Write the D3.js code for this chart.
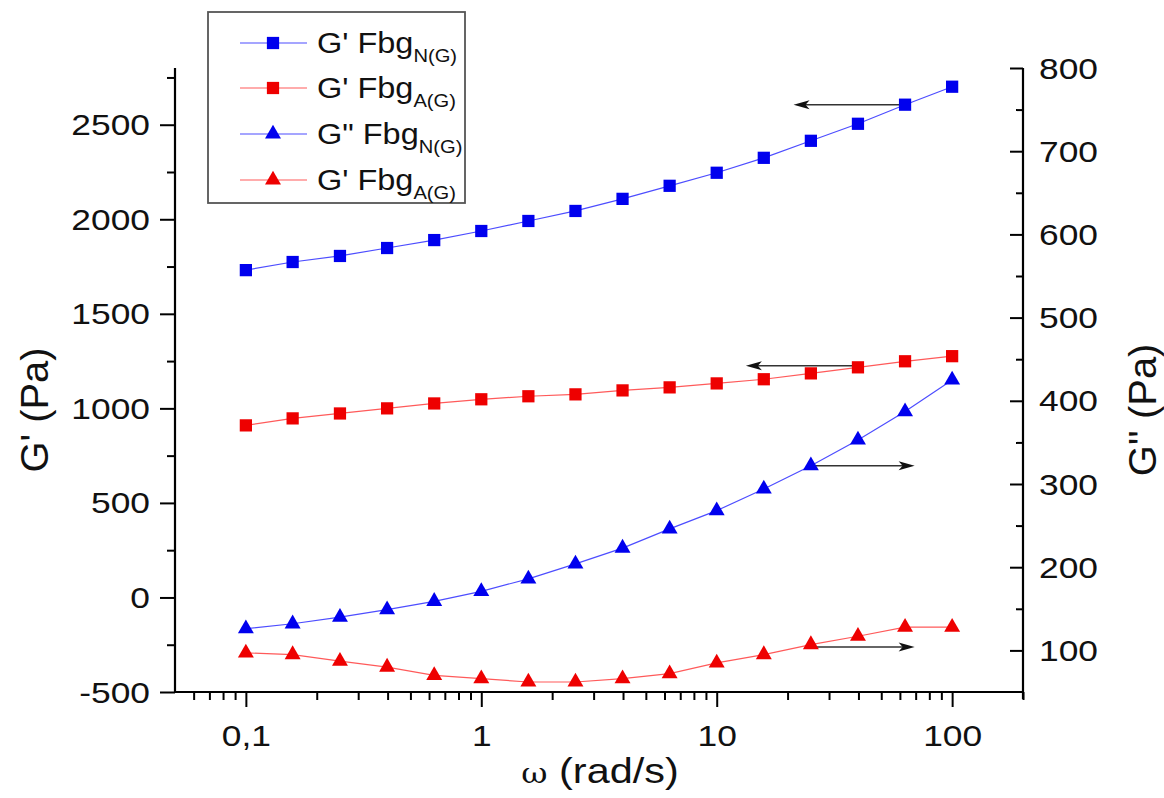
<!DOCTYPE html>
<html>
<head>
<meta charset="utf-8">
<script src="https://cdn.jsdelivr.net/npm/d3@7"></script>
<style>
  html, body { margin: 0; padding: 0; background: #fff; }
  svg { display: block; font-family: "Liberation Sans", Arial, sans-serif; }
</style>
</head>
<body>
<svg id="chart" width="1164" height="798"></svg>
<script>
// ---------- data ----------
const omega   = [0.1, 0.158, 0.251, 0.398, 0.631, 1, 1.585, 2.512, 3.981, 6.31, 10, 15.85, 25.12, 39.81, 63.1, 100];
const gpN     = [1731, 1774, 1806, 1848, 1890, 1938, 1991, 2044, 2108, 2177, 2246, 2325, 2415, 2505, 2606, 2701];
const gpA     = [910, 947, 973, 1000, 1026, 1048, 1064, 1074, 1095, 1111, 1132, 1154, 1185, 1217, 1249, 1276];
const gppN    = [126, 132, 140, 149, 159, 171, 186, 204, 223, 246, 268, 294, 322, 353, 387, 425];
const gppA    = [97, 95, 87, 80, 70, 66, 62, 62, 66, 72, 85, 95, 107, 117, 128, 128];

const xTicks       = [0.1, 1, 10, 100];
const xTickLabels  = ["0,1", "1", "10", "100"];
const xMinorTicks  = [0.06, 0.07, 0.08, 0.09, 0.2, 0.3, 0.4, 0.5, 0.6, 0.7, 0.8, 0.9,
                      2, 3, 4, 5, 6, 7, 8, 9, 20, 30, 40, 50, 60, 70, 80, 90, 200];
const yLeftTicks   = [-500, 0, 500, 1000, 1500, 2000, 2500];
const yLeftLabels  = ["-500", "0", "500", "1000", "1500", "2000", "2500"];
const yLeftMinor   = [-250, 250, 750, 1250, 1750, 2250, 2750];
const yRightTicks  = [100, 200, 300, 400, 500, 600, 700, 800];
const yRightLabels = ["100", "200", "300", "400", "500", "600", "700", "800"];
const yRightMinor  = [150, 250, 350, 450, 550, 650, 750];

const seriesNames  = ["G' Fbg", "G' Fbg", "G\" Fbg", "G' Fbg"];
const seriesSubs   = ["N(G)", "A(G)", "N(G)", "A(G)"];

// arrows: start x, end x, y value, axis
const arrowX1   = [63.1, 39.81, 25.12, 25.12];
const arrowX2   = [21.2, 13.3, 69.3, 69.3];
const arrowY    = [2606, 1225, 322, 104];
const arrowAxis = ["L", "L", "R", "R"];

// ---------- scales ----------
const svg = d3.select("#chart");
const x  = d3.scaleLog().domain([0.05, 200]).range([175, 1023]);
const yL = d3.scaleLinear().domain([-500, 2800]).range([692, 68]);
const yR = d3.scaleLinear().domain([50, 800]).range([692, 68]);

const BLUE = "#0000ee", RED = "#ee0000";
const BLUE_LINE = "#4d4dff", RED_LINE = "#ff5a5a";

const series = [
  { vals: gpN,  y: yL, color: BLUE, line: BLUE_LINE, sym: d3.symbolSquare },
  { vals: gpA,  y: yL, color: RED,  line: RED_LINE,  sym: d3.symbolSquare },
  { vals: gppN, y: yR, color: BLUE, line: BLUE_LINE, sym: d3.symbolTriangle },
  { vals: gppA, y: yR, color: RED,  line: RED_LINE,  sym: d3.symbolTriangle }
];

function styleAxis(g, sw) {
  g.select(".domain").attr("stroke", "#000").attr("stroke-width", sw);
  g.selectAll(".tick line").attr("stroke", "#000").attr("stroke-width", 2);
}

// ---------- x axis ----------
const gxMinor = svg.append("g").attr("transform", "translate(0,692)")
  .call(d3.axisBottom(x).tickValues(xMinorTicks).tickSize(8).tickFormat(""));
styleAxis(gxMinor, 2.2);
gxMinor.select(".domain").attr("d", `M175,0H1023`);
const gx = svg.append("g").attr("transform", "translate(0,692)")
  .call(d3.axisBottom(x).tickValues(xTicks).tickSize(15)
        .tickFormat((d, i) => xTickLabels[i]));
styleAxis(gx, 2.2);
gx.select(".domain").remove();
gx.selectAll("text")
  .attr("y", null).attr("dy", null)
  .attr("transform", "translate(0,54) scale(1.22,1)")
  .attr("font-size", 29).attr("fill", "#111").attr("font-family", "Liberation Sans, Arial, sans-serif");

// ---------- left axis ----------
const gyLMinor = svg.append("g").attr("transform", "translate(175,0)")
  .call(d3.axisLeft(yL).tickValues(yLeftMinor).tickSize(8).tickFormat(""));
styleAxis(gyLMinor, 2.2);
gyLMinor.select(".domain").attr("d", "M0,692V68");
const gyL = svg.append("g").attr("transform", "translate(175,0)")
  .call(d3.axisLeft(yL).tickValues(yLeftTicks).tickSize(15).tickFormat((d, i) => yLeftLabels[i]));
styleAxis(gyL, 2.2);
gyL.select(".domain").remove();
gyL.selectAll("text")
  .attr("x", null).attr("dy", null)
  .attr("transform", "translate(-25,10) scale(1.22,1)")
  .attr("font-size", 29).attr("fill", "#111").attr("font-family", "Liberation Sans, Arial, sans-serif");

// ---------- right axis (ticks inward) ----------
const gyRMinor = svg.append("g").attr("transform", "translate(1023,0)")
  .call(d3.axisLeft(yR).tickValues(yRightMinor).tickSize(7).tickFormat(""));
styleAxis(gyRMinor, 2.2);
gyRMinor.select(".domain").attr("d", "M0,699V68");
const gyR = svg.append("g").attr("transform", "translate(1023,0)")
  .call(d3.axisLeft(yR).tickValues(yRightTicks).tickSize(13).tickFormat((d, i) => yRightLabels[i]));
styleAxis(gyR, 2.2);
gyR.select(".domain").remove();
gyR.selectAll("text")
  .attr("x", null).attr("dy", null)
  .attr("text-anchor", "start")
  .attr("transform", "translate(16,10) scale(1.22,1)")
  .attr("font-size", 29).attr("fill", "#111").attr("font-family", "Liberation Sans, Arial, sans-serif");

// ---------- axis titles ----------
svg.append("text")
  .attr("transform", "translate(48,410) rotate(-90) scale(1.05,1)")
  .attr("text-anchor", "middle").attr("font-size", 38).attr("fill", "#111")
  .text("G' (Pa)");
svg.append("text")
  .attr("transform", "translate(1156,410) rotate(-90) scale(1.05,1)")
  .attr("text-anchor", "middle").attr("font-size", 38).attr("fill", "#111")
  .text("G'' (Pa)");
const xt = svg.append("text")
  .attr("transform", "translate(600,783) scale(1.15,1)")
  .attr("text-anchor", "middle").attr("font-size", 36).attr("fill", "#111");
xt.append("tspan").attr("font-family", "DejaVu Serif, serif").attr("font-size", 28).text("ω");
xt.append("tspan").text(" (rad/s)");

// ---------- arrows ----------
const arrowG = svg.append("g");
arrowX1.forEach((x1, i) => {
  const ys = arrowAxis[i] === "L" ? yL : yR;
  const yy = ys(arrowY[i]);
  const xa = x(x1), xb = x(arrowX2[i]);
  const dir = Math.sign(xb - xa);
  arrowG.append("line")
    .attr("x1", xa).attr("x2", xb - dir * 10).attr("y1", yy).attr("y2", yy)
    .attr("stroke", "#333").attr("stroke-width", 1.6);
  arrowG.append("path")
    .attr("d", `M${xb},${yy} L${xb - dir * 16},${yy - 4.5} L${xb - dir * 12},${yy} L${xb - dir * 16},${yy + 4.5} Z`)
    .attr("fill", "#111");
});

// ---------- series ----------
series.forEach(s => {
  const line = d3.line().x((d, i) => x(omega[i])).y(d => s.y(d));
  svg.append("path").datum(s.vals).attr("d", line)
    .attr("fill", "none").attr("stroke", s.line).attr("stroke-width", 1.2);
  svg.append("g").selectAll("path").data(s.vals).join("path")
    .attr("transform", (d, i) => `translate(${x(omega[i])},${s.y(d)})`)
    .attr("d", d3.symbol().type(s.sym).size(s.sym === d3.symbolSquare ? 150 : 110))
    .attr("fill", s.color);
});

// ---------- legend ----------
const lg = svg.append("g");
lg.append("rect").attr("x", 208).attr("y", 12).attr("width", 257).attr("height", 191)
  .attr("fill", "#fff").attr("stroke", "#555").attr("stroke-width", 1.8);
const rowY = [43, 88, 134, 180];
series.forEach((s, i) => {
  const yy = rowY[i];
  lg.append("line").attr("x1", 240).attr("x2", 307).attr("y1", yy).attr("y2", yy)
    .attr("stroke", s.line).attr("stroke-width", 1.2);
  lg.append("path").attr("transform", `translate(273,${yy})`)
    .attr("d", d3.symbol().type(s.sym).size(s.sym === d3.symbolSquare ? 150 : 110))
    .attr("fill", s.color);
  const t = lg.append("text")
    .attr("transform", `translate(317,${yy + 10}) scale(1.12,1)`)
    .attr("font-size", 29).attr("fill", "#111");
  t.append("tspan").text(seriesNames[i]);
  t.append("tspan").attr("font-size", 18).attr("dy", 9).text(seriesSubs[i]);
});
</script>
</body>
</html>
